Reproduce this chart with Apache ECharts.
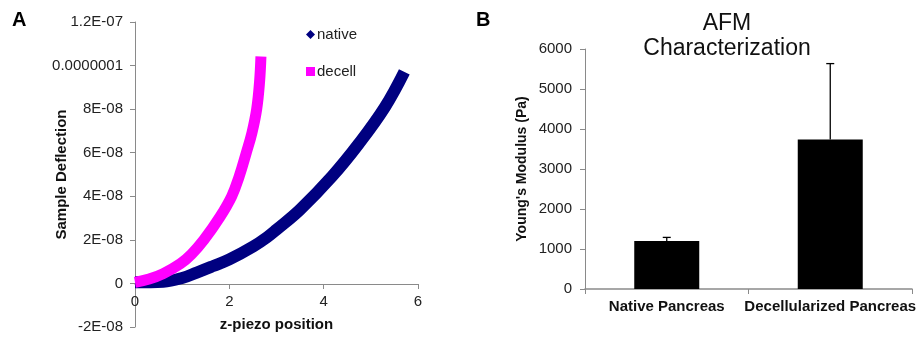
<!DOCTYPE html>
<html>
<head>
<meta charset="utf-8">
<script src="https://cdn.jsdelivr.net/npm/echarts@6/dist/echarts.min.js"></script>
<style>
  html, body { margin: 0; padding: 0; background: #fff; }
  #main { width: 923px; height: 341px; }
</style>
</head>
<body>
<div id="main"></div>
<script>
// panel A: deflection curves (y in metres)
const nativeX = [0, 0.6, 1.0, 1.31, 1.66, 2.0, 2.51, 2.8, 3.0, 3.5, 4.18, 4.74, 5.3, 5.71];
const nativeY = [0.05e-8, 0.08e-8, 0.25e-8, 0.5e-8, 0.8e-8, 1.1e-8, 1.7e-8, 2.12e-8, 2.47e-8, 3.39e-8, 4.92e-8, 6.4e-8, 8.1e-8, 9.71e-8];
const decellX = [0, 0.3, 0.6, 0.96, 1.2, 1.46, 1.8, 2.05, 2.21, 2.36, 2.48, 2.58, 2.64, 2.67];
const decellY = [0.05e-8, 0.2e-8, 0.45e-8, 0.9e-8, 1.35e-8, 2.0e-8, 3.05e-8, 4.0e-8, 4.92e-8, 6.0e-8, 6.92e-8, 8.0e-8, 9.23e-8, 10.42e-8];
const deflTickLabels = ["-2E-08", "0", "2E-08", "4E-08", "6E-08", "8E-08", "0.0000001", "1.2E-07"];

// panel B: Young's modulus
const tissues = ["Native Pancreas", "Decellularized Pancreas"];
const modulus = [1200, 3740];
const modulusErr = [90, 1895];

const pair = (xs, ys) => xs.map((x, i) => [x, ys[i]]);
const font = "Liberation Sans, Arial, sans-serif";
const axisGray = "#8a8a8a";

const chart = echarts.init(document.getElementById("main"));
const option = {
  animation: false,
  textStyle: { fontFamily: font },
  title: {
    text: "AFM\nCharacterization",
    left: 722,
    top: 6,
    textAlign: "center",
    textStyle: { fontSize: 23, fontWeight: "normal", color: "#111", lineHeight: 25, fontFamily: font }
  },
  graphic: [
    { type: "text", left: 12, top: 10, style: { text: "A", font: "bold 20px " + font, fill: "#000" } },
    { type: "text", left: 476, top: 10, style: { text: "B", font: "bold 20px " + font, fill: "#000" } }
  ],
  legend: {
    data: [
      { name: "native", icon: "diamond" },
      { name: "decell", icon: "rect" }
    ],
    orient: "vertical",
    left: 306,
    top: 27,
    padding: 0,
    itemGap: 22,
    itemWidth: 9,
    itemHeight: 9,
    textStyle: { fontSize: 15, color: "#222", padding: [0, 0, 0, -3] }
  },
  grid: [
    // plot area of A (y from -2E-08 to 1.2E-07)
    { left: 135, top: 22, width: 283, height: 305, outerBoundsMode: "none" },
    { left: 585, top: 49, right: 11, bottom: 52, outerBoundsMode: "none" },
    // helper grid whose bottom sits on y = 0 of panel A, carries the x axis
    { left: 135, top: 22, width: 283, height: 262, outerBoundsMode: "none" }
  ],
  xAxis: [
    {
      gridIndex: 0, type: "value", min: 0, max: 6, interval: 2,
      axisLine: { show: false }, axisTick: { show: false }, axisLabel: { show: false },
      splitLine: { show: false }
    },
    {
      gridIndex: 1, type: "category", data: tissues,
      axisLine: { lineStyle: { color: axisGray, width: 1.5 } },
      axisTick: { show: true, length: 5, lineStyle: { color: axisGray } },
      axisLabel: { fontSize: 15, fontWeight: "bold", color: "#111", margin: 10, interval: 0, hideOverlap: false }
    },
    {
      gridIndex: 2, type: "value", min: 0, max: 6, interval: 2,
      name: "z-piezo position", nameLocation: "middle", nameGap: 33, nameMoveOverlap: false,
      nameTextStyle: { fontSize: 15, fontWeight: "bold", color: "#111" },
      axisLine: { show: true, onZero: false, lineStyle: { color: axisGray } },
      axisTick: { show: true, length: 5, lineStyle: { color: axisGray } },
      axisLabel: { fontSize: 15, color: "#222", margin: 10 },
      splitLine: { show: false }
    }
  ],
  yAxis: [
    {
      gridIndex: 0, type: "value", min: -2e-8, max: 1.2e-7, interval: 2e-8,
      name: "Sample Deflection", nameLocation: "middle", nameGap: 66, nameMoveOverlap: false,
      nameTextStyle: { fontSize: 15, fontWeight: "bold", color: "#111" },
      axisLine: { show: true, onZero: false, lineStyle: { color: axisGray } },
      axisTick: { show: true, length: 5, lineStyle: { color: axisGray } },
      axisLabel: {
        fontSize: 15, color: "#222", margin: 12,
        formatter: v => deflTickLabels[Math.round((v + 2e-8) / 2e-8)]
      },
      splitLine: { show: false }
    },
    {
      gridIndex: 1, type: "value", min: 0, max: 6000, interval: 1000,
      name: "Young's Modulus (Pa)", nameLocation: "middle", nameGap: 56, nameMoveOverlap: false,
      nameTextStyle: { fontSize: 14, fontWeight: "bold", color: "#111" },
      axisLine: { show: true, lineStyle: { color: axisGray } },
      axisTick: { show: true, length: 5, lineStyle: { color: axisGray } },
      axisLabel: { fontSize: 15, color: "#222", margin: 13, formatter: v => String(v) },
      splitLine: { show: false }
    },
    { gridIndex: 2, type: "value", min: 0, max: 1, show: false }
  ],
  series: [
    {
      name: "native", type: "line", xAxisIndex: 0, yAxisIndex: 0,
      data: pair(nativeX, nativeY), smooth: 0.4, showSymbol: false,
      itemStyle: { color: "#000080" },
      lineStyle: { color: "#000080", width: 12, cap: "butt" }
    },
    {
      name: "decell", type: "line", xAxisIndex: 0, yAxisIndex: 0,
      data: pair(decellX, decellY), smooth: 0.4, showSymbol: false,
      itemStyle: { color: "#ff00ff" },
      lineStyle: { color: "#ff00ff", width: 11, cap: "butt" }
    },
    {
      name: "modulus", type: "bar", xAxisIndex: 1, yAxisIndex: 1,
      data: modulus, barWidth: 65,
      itemStyle: { color: "#000" }
    },
    {
      name: "error", type: "custom", xAxisIndex: 1, yAxisIndex: 1, z: 3,
      data: modulus.map((m, i) => [i, m, m + modulusErr[i]]),
      renderItem: (params, api) => {
        const base = api.coord([api.value(0), api.value(1)]);
        const top = api.coord([api.value(0), api.value(2)]);
        const half = 4;
        return {
          type: "group",
          children: [
            { type: "line", shape: { x1: base[0], y1: base[1], x2: top[0], y2: top[1] }, style: { stroke: "#000", lineWidth: 1.3 } },
            { type: "line", shape: { x1: top[0] - half, y1: top[1], x2: top[0] + half, y2: top[1] }, style: { stroke: "#000", lineWidth: 1.3 } }
          ]
        };
      }
    }
  ]
};
chart.setOption(option);
window.addEventListener("resize", chart.resize);
</script>
</body>
</html>
